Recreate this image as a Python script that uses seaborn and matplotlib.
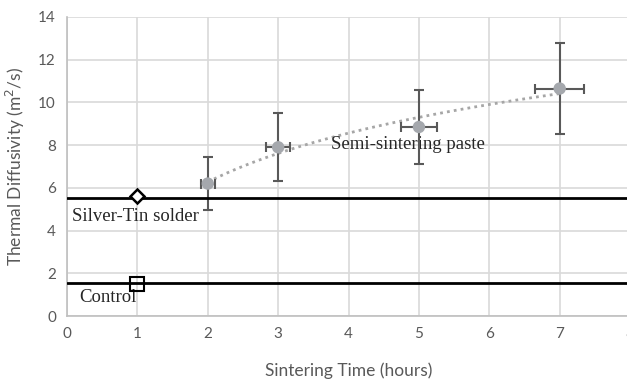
import numpy as np
import pandas as pd
import seaborn as sns
import matplotlib.pyplot as plt

# semi-sintering paste measurements
time_h = [2, 3, 5, 7]
diffusivity = [6.2, 7.9, 8.85, 10.65]
y_err = [1.25, 1.6, 1.75, 2.15]
x_err = [0.1, 0.17, 0.25, 0.35]

# reference materials
solder_level = 5.52
solder_point = (1, 5.62)
control_level = 1.55
control_point = (1, 1.5)

sns.set_style("whitegrid")
plt.rcParams["font.family"] = ["Lato", "DejaVu Sans"]

fig = plt.figure(figsize=(6.27, 3.81), dpi=100)
ax = fig.add_axes([0.1069, 0.1706, 0.898, 0.7848])

df = pd.DataFrame({"time": time_h, "diff": diffusivity})

# log trendline (like Excel)
a, b = np.polyfit(np.log(time_h), diffusivity, 1)
xs = np.linspace(min(time_h), max(time_h), 100)
trend = pd.DataFrame({"time": xs, "diff": a * np.log(xs) + b})
sns.lineplot(trend, x="time", y="diff", ax=ax, color="#A6A6A6",
             linestyle=(0, (1, 1.5)), linewidth=2, zorder=3)

ax.errorbar(time_h, diffusivity, yerr=y_err, xerr=x_err, fmt="none",
            ecolor="#595959", elinewidth=1.5, capsize=3.5, capthick=1.5, zorder=4)
sns.scatterplot(df, x="time", y="diff", ax=ax, color="#A5A8AD", s=80,
                edgecolor="none", zorder=5)

ax.axhline(solder_level, color="black", linewidth=2, zorder=6)
ax.axhline(control_level, color="black", linewidth=2, zorder=6)
ax.plot(*solder_point, marker="D", markersize=7, markerfacecolor="white",
        markeredgecolor="black", markeredgewidth=1.8, zorder=7)
ax.plot(*control_point, marker="s", markersize=10, markerfacecolor="none",
        markeredgecolor="black", markeredgewidth=1.5, zorder=7)

serif = ["Liberation Serif", "DejaVu Serif"]
ax.text(0.07, 4.65, "Silver-Tin solder", family=serif, fontsize=13.5, va="center")
ax.text(0.17, 0.85, "Control", family=serif, fontsize=13.5, va="center")
ax.text(3.75, 8.05, "Semi-sintering paste", family=serif, fontsize=13.5, va="center")

ax.set_xlim(0, 8)
ax.set_ylim(0, 14)
ax.set_xticks(range(0, 9))
ax.set_yticks(range(0, 15, 2))
ax.grid(True, color="#D9D9D9", linewidth=1.2)
for side in ["top", "right"]:
    ax.spines[side].set_visible(False)
for side in ["left", "bottom"]:
    ax.spines[side].set_color("#BFBFBF")
    ax.spines[side].set_linewidth(1.2)
ax.tick_params(colors="#595959", labelsize=11, length=0, pad=8)
ax.set_xlabel("Sintering Time (hours)", fontsize=12.5, color="#595959", labelpad=15)
ax.set_ylabel("Thermal Diffusivity (m$^2$/s)", fontsize=12.5, color="#595959", labelpad=8)

plt.savefig("out.png", dpi=100)
